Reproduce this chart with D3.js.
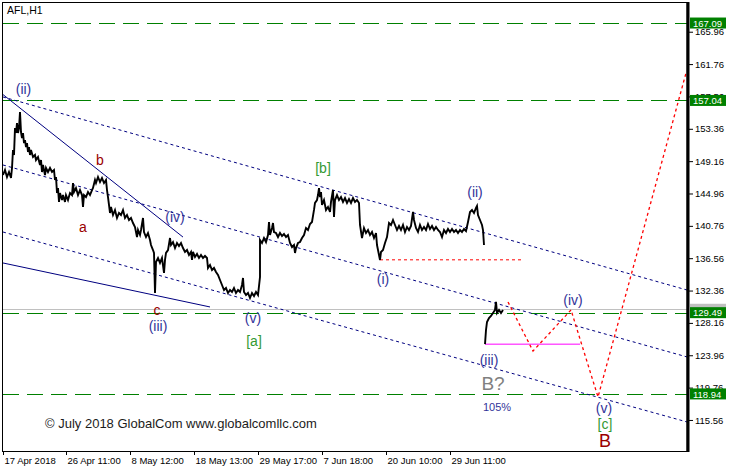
<!DOCTYPE html>
<html><head><meta charset="utf-8">
<script src="https://cdn.jsdelivr.net/npm/d3@7"></script>
<style>
body{margin:0;background:#fff}
svg{display:block}
text{font-family:"Liberation Sans",Arial,sans-serif}
</style>
</head><body>
<svg id="chart" width="732" height="468"></svg>
<script>
// ---------- data ----------
const chartTitle = "AFL,H1";
const timeTickBars = [0, 63, 127, 191, 255, 319, 383, 447];
const timeTickLabels = ["17 Apr 2018", "26 Apr 11:00", "8 May 12:00", "18 May 13:00", "29 May 17:00", "7 Jun 18:00", "20 Jun 10:00", "29 Jun 11:00"];
const priceTicks = [165.96, 161.76, 157.56, 153.36, 149.16, 144.96, 140.76, 136.56, 132.36, 128.16, 123.96, 119.76, 115.56];
const levelPrices = [167.09, 157.04, 129.49, 118.94];
const lastPrice = 129.80;

// hourly price path (bar index, price); null marks the gap
const priceBar = [0,2,4,6,8,9,10,11,12,13,14,15,16,17,18,19,20,21,22,23,24,25,26,27,28,30,32,33,35,37,38,39,40,42,43,45,47,49,51,52,53,54,55,56,57,59,60,62,63,65,67,69,70,71,73,75,77,79,80,81,83,85,87,89,90,92,93,95,97,99,101,103,104,105,106,107,108,110,112,114,116,118,120,122,124,126,128,130,132,133,134,135,137,138,140,141,143,145,147,148,150,151,152,153,155,157,159,161,162,163,165,167,168,170,172,174,176,178,180,182,184,186,188,189,190,192,194,196,198,200,202,204,205,207,209,211,213,215,217,219,221,223,225,227,229,231,233,235,237,239,240,241,243,245,247,249,251,253,255,257,257,259,261,263,265,266,267,269,270,271,273,275,277,279,281,283,285,287,289,291,292,293,295,297,299,301,303,305,307,309,311,312,314,315,316,317,318,319,321,323,325,327,328,330,331,332,334,336,338,340,342,344,346,348,350,352,354,356,357,359,361,363,365,367,369,371,373,374,375,376,377,378,380,382,384,386,388,390,392,394,396,398,400,402,404,406,408,410,411,413,415,417,419,421,423,425,427,429,431,433,435,437,439,441,443,445,447,449,451,453,455,457,459,461,463,465,467,469,471,473,474,475,477,479,480,481,481.5,482,483,484,486,488,490,492,493,494,496,498,500];
const priceClose = [147.36,148.01,147.10,147.75,146.97,148.27,150.61,149.96,153.46,152.81,154.11,152.81,153.46,155.54,152.94,152.16,152.81,151.51,151.90,150.99,151.51,150.35,150.99,149.96,150.61,149.70,149.96,149.31,149.70,148.66,149.31,147.75,148.66,147.36,148.27,147.75,148.27,147.75,148.01,146.71,147.10,145.02,145.67,143.86,145.02,144.11,144.76,143.86,144.76,144.11,145.02,144.76,146.32,145.15,145.67,144.76,145.41,144.76,143.21,144.76,144.50,145.15,144.76,145.41,145.67,146.71,146.32,147.10,146.45,146.97,146.32,146.71,145.41,144.50,143.47,142.43,143.21,142.17,142.82,141.78,142.43,142.17,142.82,141.78,142.17,141.52,141.78,141.13,140.61,139.96,139.31,140.22,139.57,140.22,141.78,139.96,139.31,139.83,138.92,138.27,137.62,137.24,132.04,136.07,136.59,135.94,136.59,134.64,136.33,137.24,137.62,139.18,138.27,138.66,137.88,138.53,138.14,138.53,137.88,137.37,137.62,136.98,137.37,136.33,137.37,136.72,137.11,136.59,136.98,136.59,136.85,136.59,135.29,135.68,135.03,135.29,134.77,134.38,133.73,133.08,132.43,132.69,132.04,132.43,132.17,132.69,132.04,132.43,132.17,133.08,133.99,132.17,131.78,132.04,131.39,132.04,131.65,132.17,131.78,134.12,138.92,138.53,139.18,138.66,139.57,141.26,139.57,140.48,141.13,139.96,139.83,139.31,139.83,139.44,139.70,139.31,139.57,138.53,138.01,138.27,137.24,137.88,138.53,138.66,139.18,139.57,140.48,140.22,141.00,141.26,142.82,143.73,144.11,144.76,145.67,144.50,145.15,143.47,144.11,142.82,143.21,142.56,143.86,145.41,141.91,144.11,144.76,144.11,144.50,143.86,144.37,143.73,144.24,143.73,144.37,143.86,144.11,143.73,140.87,139.18,140.48,139.83,140.22,139.57,139.96,139.18,139.83,138.27,137.62,136.98,136.33,137.37,137.62,138.53,139.31,141.13,140.87,141.52,140.87,140.22,140.74,140.22,140.87,139.96,140.61,140.22,140.74,142.56,141.52,140.48,139.96,140.87,140.22,140.61,140.22,141.00,140.35,140.74,140.22,140.61,140.22,139.96,139.31,140.22,139.83,140.35,139.96,140.35,139.96,140.22,139.83,140.22,139.96,140.35,140.09,141.26,142.56,142.82,142.43,143.08,143.34,142.17,141.52,140.87,140.22,138.27,null,125.40,127.24,128.28,128.80,129.06,129.45,129.84,130.88,129.45,129.84,129.45,129.84];

// trend lines (bar, price)
const solidLines = [
  [[0, 157.80], [180, 139.30]],
  [[0, 135.94], [207, 130.23]]
];
const channelLines = [
  [[0, 157.49], [684, 132.43]],
  [[0, 148.66], [684, 123.74]],
  [[0, 139.96], [684, 115.30]]
];
const supportLine = [[377, 136.35], [519, 136.35]];
const lowLine = [[482, 125.40], [577, 125.40]];
const projectionPath = [[505, 130.88], [530, 124.51], [568, 129.84], [595, 118.54], [683, 160.60]];

// wave labels (text, bar, price, group)
const waveLabels = [
  ["(ii)", 20.5, 158.59, "minor"],
  ["b", 97, 149.31, "sub"],
  ["a", 80, 140.61, "sub"],
  ["(iv)", 172, 141.91, "minor"],
  ["c", 154, 129.84, "sub"],
  ["(iii)", 155, 127.76, "minor"],
  ["(v)", 250, 128.80, "minor"],
  ["[a]", 251, 125.81, "inter"],
  ["[b]", 320, 148.27, "inter"],
  ["(i)", 380, 133.86, "minor"],
  ["(ii)", 472, 145.15, "minor"],
  ["(iii)", 486, 123.35, "minor"],
  ["B?", 490, 120.36, "query"],
  ["105%", 494, 117.25, "pct"],
  ["(iv)", 570, 131.14, "minor"],
  ["(v)", 601, 117.12, "minor"],
  ["[c]", 602, 115.04, "inter"],
  ["B", 602, 112.83, "major"]
];
const copyrightText = "\u00a9 July 2018 GlobalCom www.globalcomllc.com";

if (priceBar.length !== priceClose.length) throw new Error("length mismatch " + priceBar.length + " vs " + priceClose.length);

// ---------- drawing ----------
const svg = d3.select("#chart");
const plotL = 3, plotR = 687, plotT = 2, plotB = 451;
const x = d3.scaleLinear().domain([0, 684]).range([plotL, plotR]);
const y = d3.scaleLinear().domain([169.82, 111.53]).range([plotT, plotB]);

const labelStyle = {
  minor: {fill: "#333399", size: 14},
  sub: {fill: "#990000", size: 14},
  inter: {fill: "#339933", size: 14},
  query: {fill: "#808080", size: 19},
  pct: {fill: "#333399", size: 11},
  major: {fill: "#990000", size: 18}
};

// current price line (silver)
svg.append("line").attr("x1", plotL).attr("x2", plotR)
  .attr("y1", Math.round(y(lastPrice)) - 0.5).attr("y2", Math.round(y(lastPrice)) - 0.5)
  .attr("stroke", "#c0c0c0").attr("stroke-width", 1);

// green level lines
svg.append("g").selectAll("line").data(levelPrices).join("line")
  .attr("x1", plotL).attr("x2", plotR)
  .attr("y1", d => Math.round(y(d)) + 0.5).attr("y2", d => Math.round(y(d)) + 0.5)
  .attr("stroke", "#008000").attr("stroke-width", 1.2)
  .attr("stroke-dasharray", "16,8");

const lineGen = d3.line().x(d => x(d[0])).y(d => y(d[1]));

// channel dotted lines
svg.append("g").selectAll("path").data(channelLines).join("path")
  .attr("d", lineGen).attr("fill", "none")
  .attr("stroke", "#000080").attr("stroke-width", 1).attr("stroke-dasharray", "3,3");

// solid trend lines
svg.append("g").selectAll("path").data(solidLines).join("path")
  .attr("d", lineGen).attr("fill", "none")
  .attr("stroke", "#000080").attr("stroke-width", 1);

// support dotted red
svg.append("path").attr("d", lineGen(supportLine)).attr("fill", "none")
  .attr("stroke", "#ff0000").attr("stroke-width", 1).attr("stroke-dasharray", "3,3");

// low line magenta
svg.append("path").attr("d", lineGen(lowLine)).attr("fill", "none")
  .attr("stroke", "#ff00ff").attr("stroke-width", 1);

// price series
const series = priceBar.map((b, i) => [b, priceClose[i]]);
const priceLine = d3.line().defined(d => d[1] != null).x(d => x(d[0])).y(d => y(d[1]));
svg.append("path").attr("d", priceLine(series)).attr("fill", "none")
  .attr("stroke", "#000").attr("stroke-width", 1.9).attr("stroke-linejoin", "miter");

// projection
svg.append("path").attr("d", lineGen(projectionPath)).attr("fill", "none")
  .attr("stroke", "#ff0000").attr("stroke-width", 1.3).attr("stroke-dasharray", "3,3");

// wave labels
svg.append("g").selectAll("text").data(waveLabels).join("text")
  .attr("x", d => x(d[1])).attr("y", d => y(d[2]) + labelStyle[d[3]].size * 0.36)
  .attr("text-anchor", "middle")
  .attr("font-size", d => labelStyle[d[3]].size)
  .attr("fill", d => labelStyle[d[3]].fill)
  .text(d => d[0]);

// title & copyright
svg.append("text").attr("x", 7).attr("y", 14).attr("font-size", 10.5).attr("fill", "#000").text(chartTitle);
svg.append("text").attr("x", 45).attr("y", 428).attr("font-size", 13).attr("fill", "#1c1c1c").text(copyrightText);

// frame
svg.append("rect").attr("x", 2.5).attr("y", 2.5).attr("width", plotR - 2.5).attr("height", plotB - 2)
  .attr("fill", "none").attr("stroke", "#000").attr("stroke-width", 1);

// right axis
const yAxis = d3.axisRight(y).tickValues(priceTicks).tickSize(4).tickPadding(2).tickFormat(d3.format(".2f"));
const gy = svg.append("g").attr("transform", `translate(${plotR + 2},0)`).call(yAxis);
gy.select(".domain").remove();
gy.selectAll("text").attr("font-size", 9.5).attr("font-family", "Liberation Sans, Arial, sans-serif").attr("fill", "#000");
gy.selectAll("line").attr("stroke", "#000");
svg.append("line").attr("x1", plotR + 1).attr("x2", plotR + 1).attr("y1", plotT).attr("y2", plotB + 1)
  .attr("stroke", "#000").attr("stroke-width", 3);

// bottom axis
const xAxis = d3.axisBottom(x).tickValues(timeTickBars).tickSize(4).tickPadding(2)
  .tickFormat((d, i) => timeTickLabels[i]);
const gx = svg.append("g").attr("transform", `translate(0,${plotB})`).call(xAxis);
gx.select(".domain").remove();
gx.selectAll("text").attr("font-size", 9.5).attr("font-family", "Liberation Sans, Arial, sans-serif")
  .attr("text-anchor", "start").attr("dx", 1).attr("fill", "#000");
gx.selectAll("line").attr("stroke", "#000");

// level price boxes
const boxH = 11;
svg.append("rect").attr("x", plotR + 3).attr("y", y(lastPrice) - boxH / 2 - 1).attr("width", 36).attr("height", boxH)
  .attr("fill", "#c0c0c0");
const lv = svg.append("g").selectAll("g").data(levelPrices).join("g");
lv.append("rect").attr("x", plotR + 3).attr("y", d => y(d) - boxH / 2).attr("width", 36).attr("height", boxH)
  .attr("fill", "#008000");
lv.append("text").attr("x", plotR + 6).attr("y", d => y(d) + 3.6).attr("font-size", 9.5)
  .attr("fill", "#fff").text(d => d.toFixed(2));
</script>
</body></html>
